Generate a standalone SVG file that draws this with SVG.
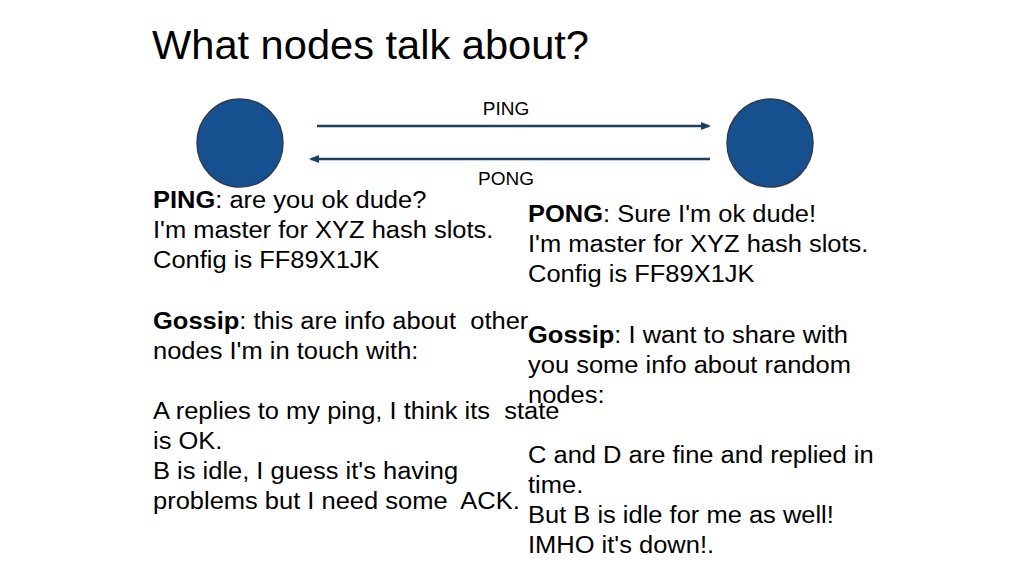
<svg xmlns="http://www.w3.org/2000/svg" width="1024" height="576" viewBox="0 0 1024 576">
<style>
text{font-family:"Liberation Sans",Arial,sans-serif;fill:#000;white-space:pre}
.b{font-size:23.5px}
.node{fill:#16508f;stroke:#2c3e55;stroke-width:1.5}
.c{stroke:#1f3f5f;stroke-width:2.5;fill:none}
</style>
<defs><marker id="ah" markerWidth="10" markerHeight="10" refX="8" refY="5" orient="auto" markerUnits="userSpaceOnUse"><path d="M0,1 L10,5 L0,9 z" fill="#1f3f5f"/></marker></defs>
<rect width="1024" height="576" fill="#fff"/>
<text transform="translate(152,59) scale(1.04,1)" font-size="40">What nodes talk about?</text>
<g id="nodeA"><ellipse class="node" cx="240" cy="143" rx="43" ry="44"/></g>
<g id="nodeB"><ellipse class="node" cx="770" cy="143" rx="43" ry="44"/></g>
<g id="connectors">
<line class="c" x1="317" y1="126" x2="709" y2="126" marker-end="url(#ah)"/>
<line class="c" x1="710" y1="159" x2="311" y2="159" marker-end="url(#ah)"/>
<text x="506" y="115" font-size="19" text-anchor="middle">PING</text>
<text x="506" y="185" font-size="19" text-anchor="middle">PONG</text>
</g>
<g class="b" transform="translate(153,0) scale(1.085,1)">
<text x="0" y="208"><tspan font-weight="bold">PING</tspan>: are you ok dude?</text>
<text x="0" y="238">I'm master for XYZ hash slots.</text>
<text x="0" y="268">Config is FF89X1JK</text>
<text x="0" y="329"><tspan font-weight="bold">Gossip</tspan>: this are info about  other</text>
<text x="0" y="359">nodes I'm in touch with:</text>
<text x="0" y="419">A replies to my ping, I think its  state</text>
<text x="0" y="449">is OK.</text>
<text x="0" y="479">B is idle, I guess it's having</text>
<text x="0" y="509">problems but I need some  ACK.</text>
</g>
<g class="b" transform="translate(528,0) scale(1.085,1)">
<text x="0" y="222"><tspan font-weight="bold">PONG</tspan>: Sure I'm ok dude!</text>
<text x="0" y="252">I'm master for XYZ hash slots.</text>
<text x="0" y="282">Config is FF89X1JK</text>
<text x="0" y="343"><tspan font-weight="bold">Gossip</tspan>: I want to share with</text>
<text x="0" y="373">you some info about random</text>
<text x="0" y="403">nodes:</text>
<text x="0" y="463">C and D are fine and replied in</text>
<text x="0" y="493">time.</text>
<text x="0" y="523">But B is idle for me as well!</text>
<text x="0" y="553">IMHO it's down!.</text>
</g>
</svg>
